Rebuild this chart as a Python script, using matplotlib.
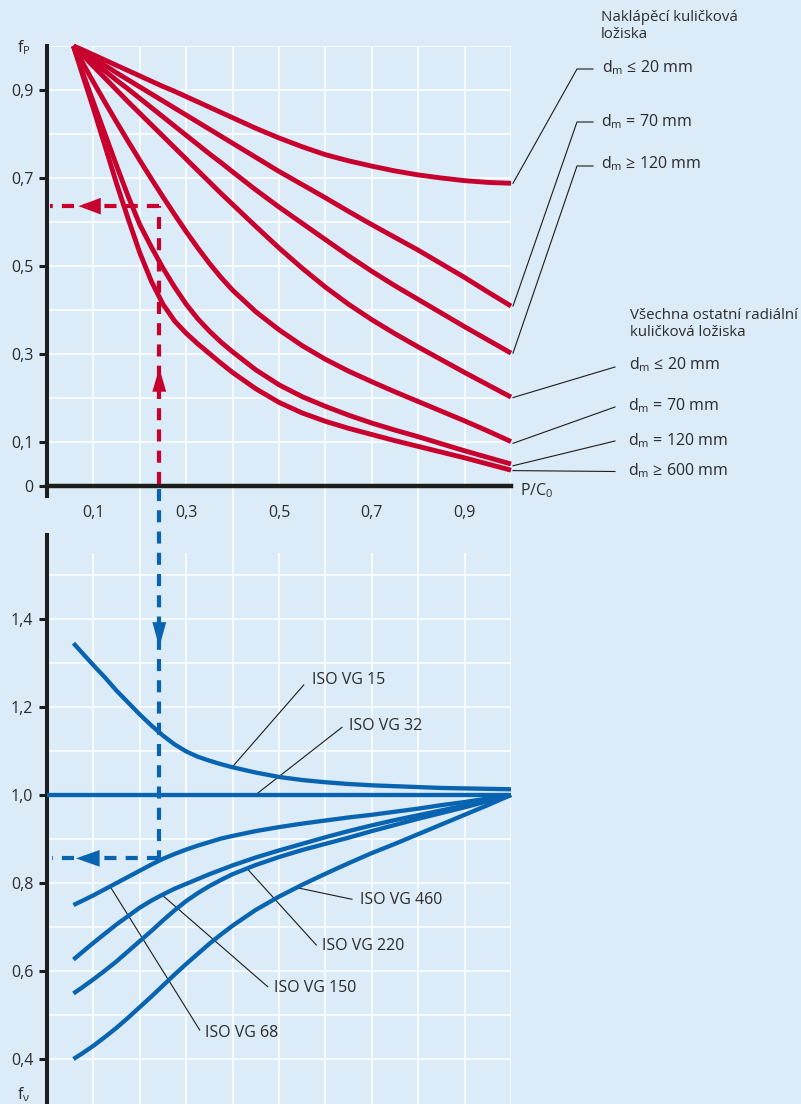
import numpy as np
import matplotlib
matplotlib.use("Agg")
import matplotlib.pyplot as plt

plt.rcParams['font.family'] = ['Open Sans', 'DejaVu Sans']

# --- data ----------------------------------------------------------------
p_c0 = [0.057, 0.075, 0.1, 0.125, 0.15, 0.175, 0.2, 0.225, 0.25, 0.275, 0.3,
        0.325, 0.35, 0.375, 0.4, 0.45, 0.5, 0.55, 0.6, 0.65, 0.7, 0.75, 0.8,
        0.85, 0.9, 0.95, 1.0]

# upper chart: f_P (self-aligning ball bearings, then other radial ball bearings)
fp_sa_20 = [1.0, 0.992, 0.98, 0.968, 0.956, 0.944, 0.932, 0.92, 0.908, 0.897, 0.885,
            0.873, 0.861, 0.849, 0.837, 0.813, 0.791, 0.771, 0.753, 0.739, 0.727,
            0.716, 0.707, 0.700, 0.694, 0.690, 0.688]
fp_sa_70 = [1.0, 0.988, 0.972, 0.956, 0.939, 0.923, 0.907, 0.891, 0.875, 0.859, 0.843,
            0.827, 0.811, 0.795, 0.779, 0.747, 0.715, 0.685, 0.655, 0.624, 0.594,
            0.565, 0.536, 0.505, 0.474, 0.441, 0.409]
fp_sa_120 = [1.0, 0.985, 0.964, 0.943, 0.922, 0.902, 0.881, 0.86, 0.839, 0.818, 0.797,
             0.776, 0.755, 0.735, 0.714, 0.673, 0.634, 0.597, 0.560, 0.523, 0.488,
             0.455, 0.424, 0.393, 0.362, 0.332, 0.302]
fp_r_20 = [1.0, 0.981, 0.954, 0.927, 0.900, 0.873, 0.847, 0.821, 0.795, 0.769, 0.743,
           0.717, 0.691, 0.665, 0.640, 0.59, 0.541, 0.495, 0.452, 0.413, 0.378,
           0.346, 0.316, 0.287, 0.258, 0.23, 0.202]
fp_r_70 = [1.0, 0.965, 0.918, 0.872, 0.827, 0.783, 0.74, 0.698, 0.657, 0.617, 0.578,
           0.541, 0.506, 0.474, 0.445, 0.396, 0.355, 0.319, 0.288, 0.261, 0.237,
           0.214, 0.192, 0.17, 0.148, 0.125, 0.101]
fp_r_120 = [1.0, 0.945, 0.872, 0.8, 0.728, 0.658, 0.594, 0.543, 0.495, 0.452, 0.413,
            0.38, 0.352, 0.327, 0.305, 0.264, 0.23, 0.203, 0.181, 0.161, 0.143,
            0.127, 0.112, 0.096, 0.08, 0.065, 0.05]
fp_r_600 = [1.0, 0.94, 0.858, 0.773, 0.687, 0.607, 0.53, 0.465, 0.413, 0.375, 0.347,
            0.323, 0.301, 0.279, 0.258, 0.221, 0.19, 0.166, 0.147, 0.131, 0.117,
            0.103, 0.09, 0.077, 0.064, 0.05, 0.036]

# lower chart: f_v for oil viscosity grades
vg15 = [1.345, 1.324, 1.295, 1.267, 1.237, 1.21, 1.183, 1.158, 1.135, 1.115, 1.099,
        1.087, 1.078, 1.07, 1.063, 1.051, 1.041, 1.034, 1.029, 1.025, 1.022,
        1.02, 1.018, 1.016, 1.015, 1.014, 1.013]
vg32_x = [0.0, 1.0]
vg32 = [1.0, 1.0]
vg68 = [0.75, 0.759, 0.772, 0.786, 0.8, 0.814, 0.828, 0.842, 0.855, 0.866, 0.876,
        0.885, 0.893, 0.901, 0.907, 0.918, 0.927, 0.935, 0.942, 0.949, 0.955,
        0.962, 0.969, 0.977, 0.984, 0.992, 1.0]
vg150 = [0.626, 0.642, 0.664, 0.685, 0.706, 0.725, 0.744, 0.76, 0.774, 0.787, 0.798,
         0.809, 0.82, 0.83, 0.84, 0.858, 0.874, 0.889, 0.904, 0.918, 0.931,
         0.943, 0.954, 0.965, 0.976, 0.988, 1.0]
vg220 = [0.549, 0.562, 0.581, 0.601, 0.622, 0.645, 0.668, 0.691, 0.715, 0.738, 0.759,
         0.777, 0.793, 0.807, 0.82, 0.841, 0.859, 0.875, 0.889, 0.903, 0.918,
         0.932, 0.946, 0.959, 0.972, 0.986, 1.0]
vg460 = [0.40, 0.412, 0.43, 0.45, 0.471, 0.494, 0.518, 0.542, 0.567, 0.592, 0.616,
         0.639, 0.662, 0.683, 0.703, 0.739, 0.769, 0.796, 0.821, 0.845, 0.868,
         0.889, 0.911, 0.933, 0.955, 0.977, 1.0]

# worked example (dashed arrows)
x_read = 0.242
fp_read = 0.636
fv_read = 0.856

top_yticks = [0, 0.1, 0.3, 0.5, 0.7, 0.9]
top_yticklabels = ["0", "0,1", "0,3", "0,5", "0,7", "0,9"]
xticks = [0.1, 0.3, 0.5, 0.7, 0.9]
xticklabels = ["0,1", "0,3", "0,5", "0,7", "0,9"]
bot_yticks = [0.4, 0.6, 0.8, 1.0, 1.2, 1.4]
bot_yticklabels = ["0,4", "0,6", "0,8", "1,0", "1,2", "1,4"]

# --- style -----------------------------------------------------------------
BG = '#dbebf7'
RED = '#c8002d'
BLUE = '#0864b1'
INK = '#1d1d1b'
TXT = '#2b2b2b'
FS = 11.5
W, H = 801, 1104


def rect(l, t, r, b):
    return [l / W, 1 - b / H, (r - l) / W, (b - t) / H]


def top_xy(px, py):
    return (px - 47) / 464, (486 - py) / 440


def bot_xy(px, py):
    return (px - 47) / 464, 1 + (795 - py) / 440


fig = plt.figure(figsize=(W / 100, H / 100), dpi=100, facecolor=BG)
ax_b = fig.add_axes(rect(47, 486, 511, 1104))
ax_t = fig.add_axes(rect(47, 46, 511, 496))

for ax in (ax_t, ax_b):
    ax.set_facecolor('none')
    ax.set_xlim(0, 1.0)
    ax.spines['top'].set_visible(False)
    ax.spines['right'].set_visible(False)
    ax.spines['left'].set_color(INK)
    ax.spines['left'].set_linewidth(2.9)
    ax.tick_params(axis='y', length=5.8, width=2.2, color=INK,
                   labelsize=FS, labelcolor=TXT, pad=4)

grid_x = np.arange(1, 11) / 10

# upper chart
ax_t.set_ylim(-10 / 440, 1.0)
ax_t.spines['bottom'].set_position(('data', 0))
ax_t.spines['bottom'].set_color(INK)
ax_t.spines['bottom'].set_linewidth(3.2)
ax_t.set_yticks(top_yticks, top_yticklabels)
ax_t.set_xticks(xticks, xticklabels)
ax_t.tick_params(axis='x', length=0, labelsize=FS, labelcolor=TXT, pad=14)
ax_t.vlines(grid_x, 0, 1.0, color='white', lw=1.1, zorder=0)
ax_t.hlines(grid_x, 0, 1.0, color='white', lw=1.1, zorder=0)

for ys in (fp_sa_20, fp_sa_70, fp_sa_120, fp_r_20, fp_r_70, fp_r_120, fp_r_600):
    ax_t.plot(p_c0, ys, color=RED, lw=3.5, clip_on=False, zorder=3,
              solid_capstyle='butt', solid_joinstyle='round')

dash = (0, (2.9, 2.2))
ax_t.plot([x_read, x_read], [0.004, fp_read], color=RED, lw=3, ls=dash, zorder=4)
ax_t.plot([x_read, 0.006], [fp_read, fp_read], color=RED, lw=3, ls=dash, zorder=4)
ax_t.annotate('', xy=(x_read, 0.268), xytext=(x_read, 0.15),
              arrowprops=dict(arrowstyle='-|>,head_length=1.7,head_width=0.5',
                              color=RED, lw=0, shrinkA=0, shrinkB=0), zorder=5)
ax_t.annotate('', xy=(0.068, fp_read), xytext=(0.2, fp_read),
              arrowprops=dict(arrowstyle='-|>,head_length=1.6,head_width=0.6',
                              color=RED, lw=0, shrinkA=0, shrinkB=0), zorder=5)

ax_t.text(*top_xy(520, 491), r'$\mathregular{P/C_0}$', fontsize=FS, color=TXT,
          ha='left', va='center', clip_on=False)


def top_label(txt, px, py, size=FS):
    ax_t.text(*top_xy(px, py), txt, fontsize=size, color=TXT, ha='left',
              va='center', clip_on=False, linespacing=1.15)


def top_leader(y_end, pts):
    xs = [1.0 + 2 / 464] + [top_xy(*p)[0] for p in pts]
    ys = [y_end] + [top_xy(*p)[1] for p in pts]
    ax_t.plot(xs, ys, color=INK, lw=0.8, clip_on=False, zorder=2)


top_label('Naklápěcí kuličková\nložiska', 601, 26, 10.8)
top_label(r'$\mathregular{d_m}$ ≤ 20 mm', 602, 68)
top_label(r'$\mathregular{d_m}$ = 70 mm', 601, 122)
top_label(r'$\mathregular{d_m}$ ≥ 120 mm', 601, 164)
top_leader(fp_sa_20[-1], [(577, 69), (593, 69)])
top_leader(fp_sa_70[-1], [(577, 122), (593, 122)])
top_leader(fp_sa_120[-1], [(577, 166), (593, 166)])

top_label('Všechna ostatní radiální\nkuličková ložiska', 630, 324, 10.8)
top_label(r'$\mathregular{d_m}$ ≤ 20 mm', 629, 365)
top_label(r'$\mathregular{d_m}$ = 70 mm', 628, 406)
top_label(r'$\mathregular{d_m}$ = 120 mm', 628, 441)
top_label(r'$\mathregular{d_m}$ ≥ 600 mm', 628, 471)
top_leader(fp_r_20[-1] - 0.001, [(615, 367)])
top_leader(fp_r_70[-1] - 0.004, [(615, 407)])
top_leader(fp_r_120[-1] - 0.004, [(615, 441)])
top_leader(fp_r_600[-1] - 0.001, [(615, 471.5)])

# lower chart
y_lo, y_hi = 1 - 309 / 440, 1 + 309 / 440
ax_b.set_ylim(y_lo, y_hi)
ax_b.spines['bottom'].set_visible(False)
ax_b.spines['left'].set_bounds(y_lo, 1 + 260 / 440)
ax_b.set_xticks([])
ax_b.set_yticks(bot_yticks, bot_yticklabels)
ax_b.hlines(np.arange(4, 16) / 10, 0, 1.0, color='white', lw=1.1, zorder=0)
ax_b.vlines(grid_x, y_lo, 1.55, color='white', lw=1.1, zorder=0)
ax_b.vlines(grid_x[1::2], 1.55, y_hi, color='white', lw=1.1, zorder=0)

for ys in (vg15, vg68, vg150, vg220, vg460):
    ax_b.plot(p_c0, ys, color=BLUE, lw=3.1, clip_on=False, zorder=3,
              solid_capstyle='butt', solid_joinstyle='round')
ax_b.plot(vg32_x, vg32, color=BLUE, lw=3.1, clip_on=False, zorder=3,
          solid_capstyle='butt')

ax_b.plot([x_read, x_read], [1.695, fv_read], color=BLUE, lw=3, ls=dash,
          zorder=4, clip_on=False)
ax_b.plot([x_read, 0.01], [fv_read, fv_read], color=BLUE, lw=3, ls=dash, zorder=4)
ax_b.annotate('', xy=(x_read, 1.336), xytext=(x_read, 1.5),
              arrowprops=dict(arrowstyle='-|>,head_length=1.8,head_width=0.5',
                              color=BLUE, lw=0, shrinkA=0, shrinkB=0), zorder=5)
ax_b.annotate('', xy=(0.0625, fv_read), xytext=(0.2, fv_read),
              arrowprops=dict(arrowstyle='-|>,head_length=1.7,head_width=0.6',
                              color=BLUE, lw=0, shrinkA=0, shrinkB=0), zorder=5)


def vg_label(txt, xs, ys, x_on, px, py, lx, ly):
    y_on = np.interp(x_on, xs, ys)
    x1, y1 = bot_xy(lx, ly)
    ax_b.plot([x_on, x1], [y_on, y1], color=INK, lw=0.8, zorder=2)
    ax_b.text(*bot_xy(px, py), txt, fontsize=FS, color=TXT, ha='left', va='center')


vg_label('ISO VG 15', p_c0, vg15, 0.399, 312, 680, 303.7, 685)
vg_label('ISO VG 32', vg32_x, vg32, 0.449, 349, 726, 342, 727.3)
vg_label('ISO VG 460', p_c0, vg460, 0.538, 360, 900, 352, 899.3)
vg_label('ISO VG 220', p_c0, vg220, 0.431, 322, 946, 316.3, 945)
vg_label('ISO VG 150', p_c0, vg150, 0.248, 274, 988, 267.7, 986.7)
vg_label('ISO VG 68', p_c0, vg68, 0.136, 205, 1033, 199.7, 1030)

fig.text(17 / W, 1 - 52 / H, r'$\mathregular{f_P}$', fontsize=FS, color=TXT,
         ha='left', va='baseline')
fig.text(17 / W, 1 - 1099 / H, r'$\mathregular{f_ν}$', fontsize=FS, color=TXT,
         ha='left', va='baseline')

fig.savefig('out.png', dpi=100, facecolor=BG)
